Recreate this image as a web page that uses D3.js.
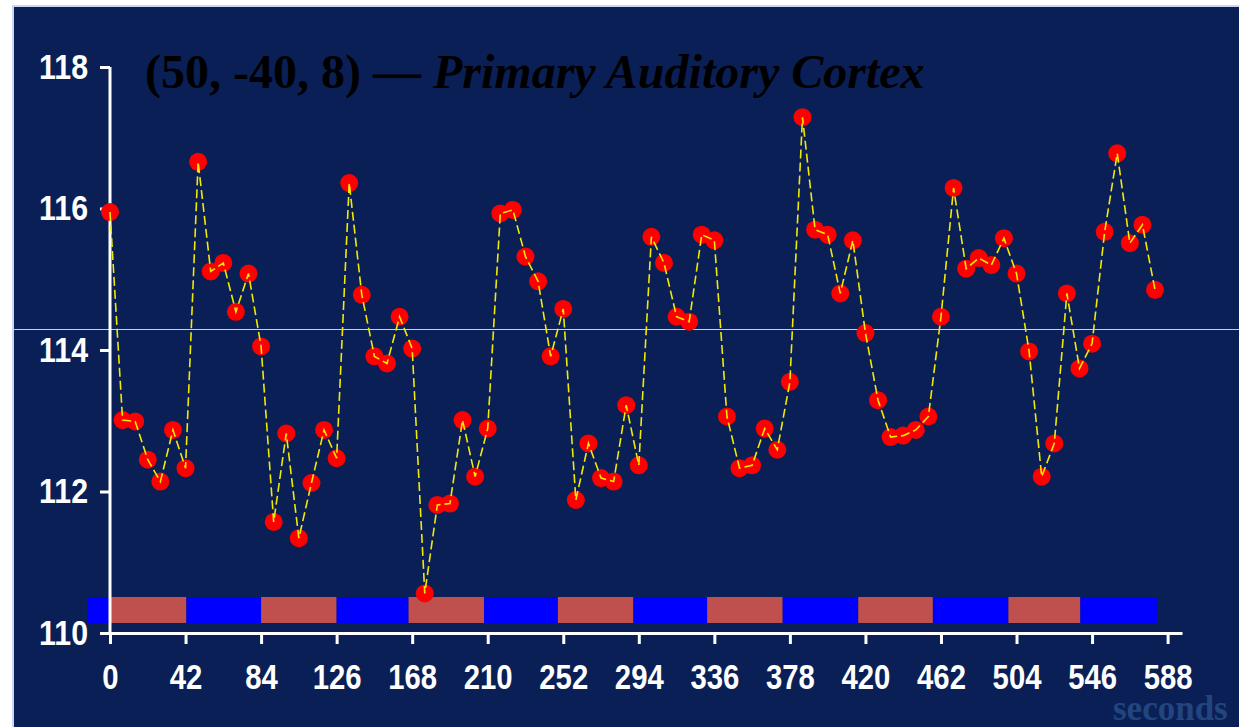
<!DOCTYPE html>
<html>
<head>
<meta charset="utf-8">
<title>Primary Auditory Cortex</title>
<script src="https://d3js.org/d3.v7.min.js"></script>
<style>
  html, body { margin: 0; padding: 0; background: #ffffff; }
  svg { display: block; }
</style>
</head>
<body>
<svg id="mainsvg" width="1239" height="727"></svg>
<script>
// ---------- data ----------
const TR = 7; // seconds between scans
const signal = [
  115.95, 113.01, 112.99, 112.45, 112.14, 112.87, 112.33,
  116.66, 115.11, 115.23, 114.54, 115.08, 114.05, 111.57,
  112.82, 111.34, 112.12, 112.87, 112.47, 116.36, 114.78,
  113.91, 113.81, 114.47, 114.02, 110.56, 111.81, 111.83,
  113.01, 112.21, 112.89, 115.93, 115.98, 115.32, 114.97,
  113.91, 114.58, 111.88, 112.68, 112.19, 112.14, 113.22,
  112.37, 115.60, 115.23, 114.47, 114.40, 115.63, 115.55,
  113.06, 112.33, 112.37, 112.89, 112.59, 113.55, 117.29,
  115.70, 115.63, 114.80, 115.55, 114.24, 113.29, 112.77,
  112.79, 112.87, 113.06, 114.47, 116.29, 115.15, 115.30,
  115.20, 115.58, 115.08, 113.98, 112.21, 112.68, 114.80,
  113.74, 114.09, 115.67, 116.78, 115.51, 115.77, 114.85
];
const xTicks = [0, 42, 84, 126, 168, 210, 252, 294, 336, 378, 420, 462, 504, 546, 588];
const yTicks = [110, 112, 114, 116, 118];
// stimulus blocks (seconds) and their condition
const blockEdges = [-12.6, 0, 42.5, 84, 126, 166, 208, 249, 291, 332, 374, 416, 457.5, 499.5, 539.5, 582];
const blockCond  = ["rest", "task", "rest", "task", "rest", "task", "rest", "task",
                    "rest", "task", "rest", "task", "rest", "task", "rest"];
const refLevel = 114.3;
const titleCoords = "(50, -40, 8) \u2014 ";
const titleRegion = "Primary Auditory Cortex";
const xLabel = "seconds";

// ---------- canvas ----------
const svg = d3.select("#mainsvg");
const width = +svg.attr("width");
const height = +svg.attr("height");

// white page, thin light-blue frame, navy panel
svg.append("rect").attr("x", 12).attr("y", 5).attr("width", width - 12).attr("height", height - 5)
   .attr("fill", "#c9d5f2");
svg.append("rect").attr("x", 14).attr("y", 7).attr("width", width - 14).attr("height", height - 7)
   .attr("fill", "#0a1f55");

const xScale = d3.scaleLinear().domain([0, 596]).range([110, 1182]);
const yScale = d3.scaleLinear().domain([110, 118]).range([633, 67]);
const condColor = d3.scaleOrdinal().domain(["rest", "task"]).range(["#0000ff", "#c0504d"]);

// ---------- stimulus bar ----------
const blocks = blockCond.map((c, i) => ({cond: c, t0: blockEdges[i], t1: blockEdges[i + 1]}));
svg.append("g").selectAll("rect").data(blocks).join("rect")
   .attr("x", d => xScale(d.t0))
   .attr("width", d => xScale(d.t1) - xScale(d.t0))
   .attr("y", 597)
   .attr("height", 26)
   .attr("fill", d => condColor(d.cond));

// faint horizontal reference line across the panel
svg.append("line")
   .attr("x1", 14).attr("x2", width)
   .attr("y1", Math.round(yScale(refLevel)) + 0.5).attr("y2", Math.round(yScale(refLevel)) + 0.5)
   .attr("stroke", "#c8cfe0").attr("stroke-width", 1);

// ---------- axes ----------
function styleAxis(g) {
  g.select(".domain").attr("stroke", "#ffffff").attr("stroke-width", 3);
  g.selectAll(".tick line").attr("stroke", "#ffffff").attr("stroke-width", 3);
  g.selectAll(".tick text")
   .attr("fill", "#ffffff")
   .attr("font-family", "'Liberation Sans Narrow', 'Liberation Sans', Arial, sans-serif")
   .attr("font-weight", "bold")
   .attr("font-size", "35px")
   .attr("textLength", function () { return this.textContent.length * 16.3; })
   .attr("lengthAdjust", "spacingAndGlyphs");
}

const yAxis = d3.axisLeft(yScale).tickValues(yTicks).tickFormat(d3.format("d"))
                .tickSize(10).tickSizeOuter(0).tickPadding(12);
svg.append("g").attr("transform", "translate(110,0)").call(yAxis).call(styleAxis)
   .select(".domain").attr("d", `M0,${yScale(118)}V${yScale(110)}`);

const xAxis = d3.axisBottom(xScale).tickValues(xTicks).tickFormat(d3.format("d"))
                .tickSize(11).tickSizeOuter(0).tickPadding(20);
svg.append("g").attr("transform", "translate(0,633)").call(xAxis).call(styleAxis);

// ---------- series ----------
const points = signal.map((v, i) => ({t: i * TR, v: v}));

svg.append("g").selectAll("circle").data(points).join("circle")
   .attr("cx", d => xScale(d.t))
   .attr("cy", d => yScale(d.v))
   .attr("r", 9)
   .attr("fill", "#ff0000");

const line = d3.line().x(d => xScale(d.t)).y(d => yScale(d.v));
svg.append("path").datum(points)
   .attr("d", line)
   .attr("fill", "none")
   .attr("stroke", "#f2ea00")
   .attr("stroke-width", 1.6)
   .attr("stroke-dasharray", "9,4");

// ---------- texts ----------
const title = svg.append("text")
   .attr("x", 145).attr("y", 88)
   .attr("font-family", "'Liberation Serif', 'Times New Roman', serif")
   .attr("font-weight", "bold")
   .attr("font-size", "48px")
   .attr("fill", "#000000");
title.append("tspan").text(titleCoords);
title.append("tspan").attr("font-style", "italic").text(titleRegion);

svg.append("text")
   .attr("x", 1113).attr("y", 720)
   .attr("font-family", "'Liberation Serif', 'Times New Roman', serif")
   .attr("font-weight", "bold")
   .attr("font-size", "35px")
   .attr("fill", "#23457f")
   .text(xLabel);
</script>
</body>
</html>
